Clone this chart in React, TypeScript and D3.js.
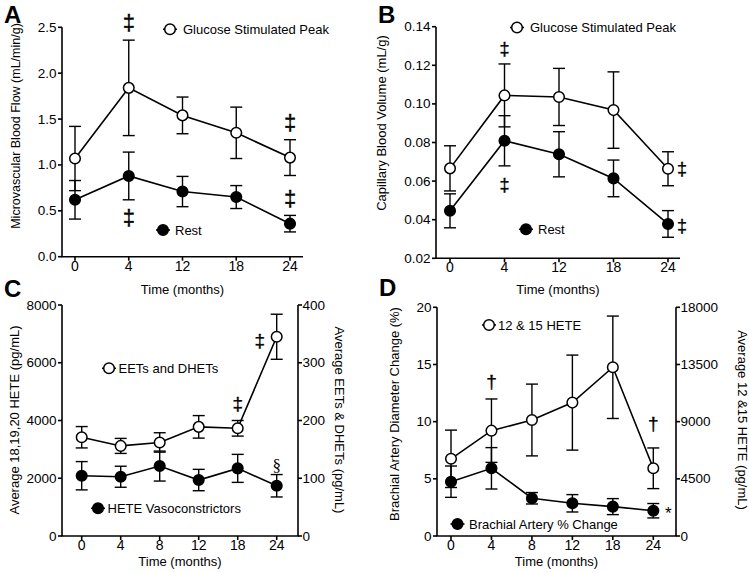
import React from "react";
import * as d3 from "d3";

const FONT = "'Liberation Sans', Arial, Helvetica, sans-serif";

// ---------- categories ----------
const monthsAB = ["0", "4", "12", "18", "24"];
const monthsCD = ["0", "4", "8", "12", "18", "24"];

// ---------- Panel A: microvascular blood flow (mL/min/g) ----------
const flowPeak = [1.07, 1.84, 1.54, 1.35, 1.08];
const flowPeakErr = [0.35, 0.52, 0.2, 0.28, 0.195];
const flowRest = [0.62, 0.88, 0.71, 0.65, 0.36];
const flowRestErr = [0.21, 0.26, 0.165, 0.125, 0.09];
const ticksA = [0, 0.5, 1, 1.5, 2, 2.5];

// ---------- Panel B: capillary blood volume (mL/g) ----------
const volPeak = [0.0666, 0.1044, 0.1036, 0.0968, 0.0664];
const volPeakErr = [0.0117, 0.0163, 0.0148, 0.0198, 0.0088];
const volRest = [0.0446, 0.0809, 0.0739, 0.0614, 0.0378];
const volRestErr = [0.0088, 0.013, 0.0117, 0.0095, 0.0069];
const ticksB = [0.02, 0.04, 0.06, 0.08, 0.1, 0.12, 0.14];

// ---------- Panel C ----------
const eets = [171, 156, 162, 189, 186.5, 345]; // right axis, pg/mL
const eetsErr = [18.5, 13, 16.8, 19.5, 13.5, 39];
const heteVaso = [2087, 2052, 2422, 1938, 2342, 1740]; // left axis, pg/mL
const heteVasoErr = [490, 364, 519, 370, 485, 388];
const ticksCLeft = [0, 2000, 4000, 6000, 8000];
const ticksCRight = [0, 100, 200, 300, 400];

// ---------- Panel D ----------
const brachial = [4.75, 5.92, 3.3, 2.86, 2.57, 2.21]; // left axis, %
const brachialErr = [1.37, 1.81, 0.5, 0.76, 0.7, 0.63];
const hete1215 = [6075, 8290, 9130, 10500, 13280, 5330]; // right axis, pg/mL
const hete1215Err = [2258, 2495, 2825, 3740, 4030, 1600];
const ticksDLeft = [0, 5, 10, 15, 20];
const ticksDRight = [0, 4500, 9000, 13500, 18000];

// ---------- significance marks (values on the left axis) ----------
const notesA = [
  { cat: "4", v: 2.55, text: "‡", dx: 0 },
  { cat: "24", v: 1.46, text: "‡", dx: 0 },
  { cat: "4", v: 0.43, text: "‡", dx: 0 },
  { cat: "24", v: 0.63, text: "‡", dx: 0 },
];
const notesB = [
  { cat: "4", v: 0.1284, text: "‡", dx: 0 },
  { cat: "4", v: 0.058, text: "‡", dx: 0 },
  { cat: "24", v: 0.0663, text: "‡", dx: 14 },
  { cat: "24", v: 0.0369, text: "‡", dx: 14 },
];
const notesC = [
  { cat: "18", v: 4592, text: "‡", dx: 0 },
  { cat: "24", v: 6780, text: "‡", dx: -17 },
  { cat: "24", v: 2433, text: "§", dx: 0 },
];
const notesD = [
  { cat: "4", v: 13.5, text: "†", dx: 0 },
  { cat: "24", v: 9.84, text: "†", dx: 0 },
  { cat: "24", v: 2.0, text: "*", dx: 15 },
];

type Series = { vals: number[]; errs: number[]; filled: boolean; right?: boolean };
type Note = { cat: string; v: number; text: string; dx: number };
type Legend = { cx: number; cy: number; tx: number; text: string; filled: boolean };
type AxisCfg = {
  domain: [number, number];
  ticks: number[];
  fmt: (n: number) => string;
  title: string;
  titleX: number;
  titleY: number;
  titleSize: number;
};
type PanelCfg = {
  letter: string;
  lx: number;
  ly: number;
  cats: string[];
  axisX: [number, number];
  pts: [number, number];
  yPix: [number, number];
  left: AxisCfg;
  right?: AxisCfg;
  xTitleY: number;
  series: Series[];
  notes: Note[];
  noteSize: number;
  legends: Legend[];
};

const SW = 1.6;

function Panel({ cfg }: { cfg: PanelCfg }) {
  const x = d3.scalePoint<string>().domain(cfg.cats).range(cfg.pts);
  const yL = d3.scaleLinear().domain(cfg.left.domain).range(cfg.yPix);
  const yR = cfg.right ? d3.scaleLinear().domain(cfg.right.domain).range(cfg.yPix) : yL;
  const [bottom, top] = cfg.yPix;
  const [ax0, ax1] = cfg.axisX;
  const xMid = (ax0 + ax1) / 2;

  const lineGen = (ys: d3.ScaleLinear<number, number>) =>
    d3
      .line<number>()
      .x((_, i) => x(cfg.cats[i]) as number)
      .y((v) => ys(v));

  return (
    <g>
      <text x={cfg.lx} y={cfg.ly} fontSize={24} fontWeight="bold" fontFamily={FONT} fill="#000">
        {cfg.letter}
      </text>

      <line x1={ax0} x2={ax0} y1={top} y2={bottom} stroke="#000" strokeWidth={SW} />
      <line x1={ax0 - SW / 2} x2={ax1 + (cfg.right ? SW / 2 : 0)} y1={bottom} y2={bottom} stroke="#000" strokeWidth={SW} />
      {cfg.right && <line x1={ax1} x2={ax1} y1={top} y2={bottom} stroke="#000" strokeWidth={SW} />}

      {cfg.left.ticks.map((t) => (
        <g key={"l" + t}>
          <line x1={ax0 - 4} x2={ax0} y1={yL(t)} y2={yL(t)} stroke="#000" strokeWidth={SW} />
          <text x={ax0 - 5.5} y={yL(t)} textAnchor="end" dominantBaseline="central" fontSize={13.5} fontFamily={FONT} fill="#000">
            {cfg.left.fmt(t)}
          </text>
        </g>
      ))}
      {cfg.right &&
        cfg.right.ticks.map((t) => (
          <g key={"r" + t}>
            <line x1={ax1} x2={ax1 + 4} y1={yR(t)} y2={yR(t)} stroke="#000" strokeWidth={SW} />
            <text x={ax1 + 4.5} y={yR(t)} textAnchor="start" dominantBaseline="central" fontSize={13.5} fontFamily={FONT} fill="#000">
              {cfg.right!.fmt(t)}
            </text>
          </g>
        ))}
      {cfg.cats.map((c) => (
        <g key={"x" + c}>
          <line x1={x(c)} x2={x(c)} y1={bottom} y2={bottom + 4} stroke="#000" strokeWidth={SW} />
          <text x={x(c)} y={bottom + 14} textAnchor="middle" fontSize={14} fontFamily={FONT} fill="#000">
            {c}
          </text>
        </g>
      ))}

      <text x={xMid} y={cfg.xTitleY} textAnchor="middle" fontSize={13} fontFamily={FONT} fill="#000">
        Time (months)
      </text>
      <text
        transform={`translate(${cfg.left.titleX},${cfg.left.titleY}) rotate(-90)`}
        textAnchor="middle"
        fontSize={cfg.left.titleSize}
        fontFamily={FONT}
        fill="#000"
      >
        {cfg.left.title}
      </text>
      {cfg.right && (
        <text
          transform={`translate(${cfg.right.titleX},${cfg.right.titleY}) rotate(90)`}
          textAnchor="middle"
          fontSize={cfg.right.titleSize}
          fontFamily={FONT}
          fill="#000"
        >
          {cfg.right.title}
        </text>
      )}

      {cfg.series.map((s, si) => (
        <path key={"ln" + si} d={lineGen(s.right ? yR : yL)(s.vals) || ""} fill="none" stroke="#000" strokeWidth={SW} />
      ))}
      {cfg.series.map((s, si) => {
        const ys = s.right ? yR : yL;
        return s.vals.map((v, i) => {
          const cx = x(cfg.cats[i]) as number;
          const hi = ys(v + s.errs[i]);
          const lo = ys(v - s.errs[i]);
          return (
            <g key={"eb" + si + "-" + i} stroke="#000" strokeWidth={1.4}>
              <line x1={cx} x2={cx} y1={hi} y2={lo} />
              <line x1={cx - 6} x2={cx + 6} y1={hi} y2={hi} />
              <line x1={cx - 6} x2={cx + 6} y1={lo} y2={lo} />
            </g>
          );
        });
      })}
      {cfg.series.map((s, si) => {
        const ys = s.right ? yR : yL;
        return s.vals.map((v, i) => (
          <circle
            key={"m" + si + "-" + i}
            cx={x(cfg.cats[i]) as number}
            cy={ys(v)}
            r={5.3}
            fill={s.filled ? "#000" : "#fff"}
            stroke="#000"
            strokeWidth={1.5}
          />
        ));
      })}

      {cfg.notes.map((n, i) => (
        <text
          key={"n" + i}
          x={(x(n.cat) as number) + n.dx}
          y={yL(n.v)}
          textAnchor="middle"
          dominantBaseline="central"
          fontSize={n.text === "§" ? 17 : n.text === "*" ? 17 : cfg.noteSize}
          fontFamily={n.text === "§" ? "'Liberation Serif', serif" : FONT}
          fill="#000"
          stroke="#000"
          strokeWidth={n.text === "‡" || n.text === "†" ? 0.35 : 0}
        >
          {n.text}
        </text>
      ))}

      {cfg.legends.map((l, i) => (
        <g key={"lg" + i}>
          <line x1={l.cx - 7} x2={l.cx + 7} y1={l.cy} y2={l.cy} stroke="#000" strokeWidth={SW} />
          <circle cx={l.cx} cy={l.cy} r={5.3} fill={l.filled ? "#000" : "#fff"} stroke="#000" strokeWidth={1.5} />
          <text x={l.tx} y={l.cy} dominantBaseline="central" fontSize={13} fontFamily={FONT} fill="#000">
            {l.text}
          </text>
        </g>
      ))}
    </g>
  );
}

const f1 = d3.format(".1f");
const f2 = d3.format(".2f");
const fd = d3.format("d");

const panels: PanelCfg[] = [
  {
    letter: "A",
    lx: 4,
    ly: 23,
    cats: monthsAB,
    axisX: [62, 303],
    pts: [75, 290],
    yPix: [256.7, 27.3],
    left: { domain: [0, 2.5], ticks: ticksA, fmt: f1, title: "Microvascular Blood Flow (mL/min/g)", titleX: 20, titleY: 126, titleSize: 12.5 },
    xTitleY: 294,
    series: [
      { vals: flowPeak, errs: flowPeakErr, filled: false },
      { vals: flowRest, errs: flowRestErr, filled: true },
    ],
    notes: notesA,
    noteSize: 22,
    legends: [
      { cx: 170, cy: 29.3, tx: 183, text: "Glucose Stimulated Peak", filled: false },
      { cx: 163, cy: 230, tx: 175, text: "Rest", filled: true },
    ],
  },
  {
    letter: "B",
    lx: 378,
    ly: 23,
    cats: monthsAB,
    axisX: [436, 680],
    pts: [450, 668],
    yPix: [258.3, 26.7],
    left: { domain: [0.02, 0.14], ticks: ticksB, fmt: f2, title: "Capillary Blood Volume (mL/g)", titleX: 386, titleY: 123, titleSize: 13 },
    xTitleY: 294,
    series: [
      { vals: volPeak, errs: volPeakErr, filled: false },
      { vals: volRest, errs: volRestErr, filled: true },
    ],
    notes: notesB,
    noteSize: 18,
    legends: [
      { cx: 517, cy: 27.5, tx: 530, text: "Glucose Stimulated Peak", filled: false },
      { cx: 526, cy: 229.3, tx: 538, text: "Rest", filled: true },
    ],
  },
  {
    letter: "C",
    lx: 4,
    ly: 297,
    cats: monthsCD,
    axisX: [62, 298],
    pts: [81.7, 276.7],
    yPix: [536, 305],
    left: { domain: [0, 8000], ticks: ticksCLeft, fmt: fd, title: "Average 18,19,20 HETE (pg/mL)", titleX: 19, titleY: 420, titleSize: 13 },
    right: { domain: [0, 400], ticks: ticksCRight, fmt: fd, title: "Average EETs & DHETs (pg/mL)", titleX: 335, titleY: 420, titleSize: 13 },
    xTitleY: 566,
    series: [
      { vals: eets, errs: eetsErr, filled: false, right: true },
      { vals: heteVaso, errs: heteVasoErr, filled: true },
    ],
    notes: notesC,
    noteSize: 19,
    legends: [
      { cx: 109, cy: 368.3, tx: 118.5, text: "EETs and DHETs", filled: false },
      { cx: 98, cy: 508.3, tx: 107.5, text: "HETE Vasoconstrictors", filled: true },
    ],
  },
  {
    letter: "D",
    lx: 379,
    ly: 296,
    cats: monthsCD,
    axisX: [437, 676],
    pts: [451, 653.3],
    yPix: [536, 307.3],
    left: { domain: [0, 20], ticks: ticksDLeft, fmt: fd, title: "Brachial Artery Diameter Change (%)", titleX: 399, titleY: 414, titleSize: 13 },
    right: { domain: [0, 18000], ticks: ticksDRight, fmt: fd, title: "Average 12 &15 HETE (pg/mL)", titleX: 737.5, titleY: 420, titleSize: 13 },
    xTitleY: 566,
    series: [
      { vals: hete1215, errs: hete1215Err, filled: false, right: true },
      { vals: brachial, errs: brachialErr, filled: true },
    ],
    notes: notesD,
    noteSize: 19,
    legends: [
      { cx: 489, cy: 325, tx: 498, text: "12 & 15 HETE", filled: false },
      { cx: 457.5, cy: 524, tx: 469, text: "Brachial Artery % Change", filled: true },
    ],
  },
];

export default function App() {
  return (
    <svg
      width={749}
      height={573}
      viewBox="0 0 749 573"
      style={{ position: "absolute", left: 0, top: 0, background: "#fff" }}
    >
      <rect x={0} y={0} width={749} height={573} fill="#fff" />
      {panels.map((p) => (
        <Panel key={p.letter} cfg={p} />
      ))}
    </svg>
  );
}
